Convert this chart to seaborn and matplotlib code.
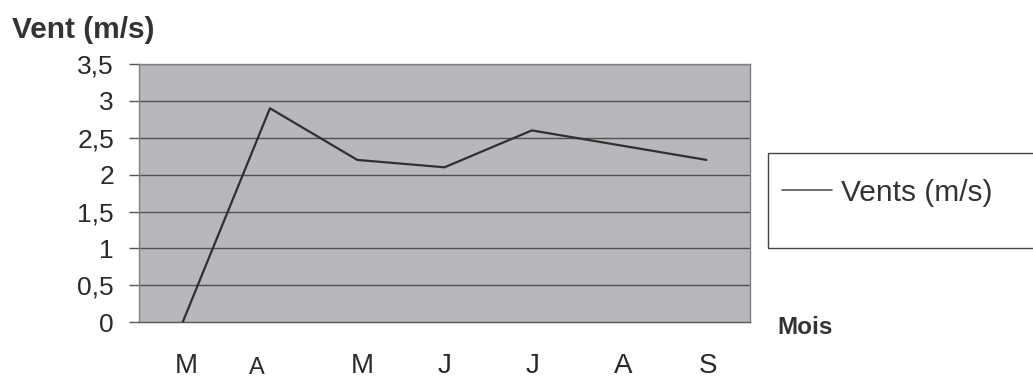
import matplotlib
matplotlib.use("Agg")
import matplotlib.pyplot as plt
from matplotlib.patches import Rectangle
from matplotlib.transforms import ScaledTranslation
import seaborn as sns
import pandas as pd

# Monthly mean wind speed, March to September
months = ["M", "A", "M", "J", "J", "A", "S"]
wind = [0.0, 2.9, 2.2, 2.1, 2.6, 2.4, 2.2]
y_ticks = [0, 0.5, 1, 1.5, 2, 2.5, 3, 3.5]
y_labels = ["0", "0,5", "1", "1,5", "2", "2,5", "3", "3,5"]

sns.set_theme(style="white")
plt.rcParams["font.family"] = ["Liberation Sans", "DejaVu Sans"]

df = pd.DataFrame({"pos": range(len(months)), "wind": wind})

fig = plt.figure(figsize=(10.33, 3.79), dpi=100)
ax = fig.add_axes([0.1346, 0.150, 0.5915, 0.681])
ax.set_facecolor("#b8b8bc")

for y in y_ticks[1:]:
    ax.axhline(y, color="#505050", lw=1.0, zorder=1)

sns.lineplot(data=df, x="pos", y="wind", ax=ax, color="#303030", lw=1.6,
             label="Vents (m/s)", zorder=3)

ax.set_xlim(-0.5, len(months) - 0.5)
ax.set_ylim(0, 3.5)
ax.set_yticks(y_ticks)
ax.set_yticklabels(y_labels, fontsize=19, color="#2a2a2a")
ax.set_xticks(range(len(months)))
ax.set_xticklabels(months, fontsize=20, color="#2a2a2a")
ax.set_xticks([i - 0.5 for i in range(len(months) + 1)], minor=True)
ax.tick_params(axis="x", which="major", length=0, pad=22)
ax.tick_params(axis="x", which="minor", length=7.5, color="#999999", width=1)
ax.tick_params(axis="y", length=7, color="#555555", width=1, pad=11, left=True)
ax.set_xlabel("")
ax.set_ylabel("")

# month letters sit slightly off their category centres (dx, dy in pixels)
nudges = [(4, 0), (-13, -4), (5, 0), (0, 0), (1, 0), (4, 0), (2, 0)]
for lbl, (dx, dy) in zip(ax.get_xticklabels(), nudges):
    lbl.set_transform(lbl.get_transform()
                      + ScaledTranslation(dx / 100, dy / 100, fig.dpi_scale_trans))
ax.get_xticklabels()[1].set_fontsize(17)

for side, sp in ax.spines.items():
    sp.set_visible(True)
    sp.set_color("#808080")
    sp.set_linewidth(1.0)
ax.spines["bottom"].set_color("#555555")

fig.text(0.012, 0.921, "Vent (m/s)", fontsize=21.5, fontweight="bold",
         color="#333333", ha="left", va="center")
fig.text(0.753, 0.137, "Mois", fontsize=17.5, fontweight="bold",
         color="#333333", ha="left", va="center")

# legend frame running off the right edge
fig.patches.append(Rectangle((0.7435, 0.3456), 0.27, 0.2507, transform=fig.transFigure,
                             fill=False, edgecolor="#444444", lw=1.0))
leg = ax.legend(loc="center left", bbox_to_anchor=(0.731, 0.491),
                bbox_transform=fig.transFigure, frameon=False,
                fontsize=21.5, handlelength=1.67, handletextpad=0.3)
for h in leg.get_lines():
    h.set_linewidth(1.2)
    h.set_color("#555555")
for t in leg.get_texts():
    t.set_color("#333333")

fig.savefig("out.png", dpi=100, facecolor="white")
